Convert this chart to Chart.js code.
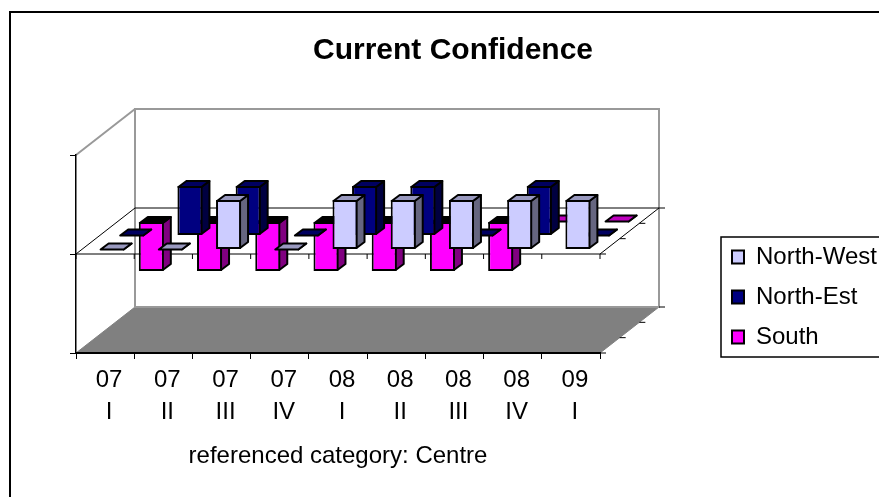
<!DOCTYPE html>
<html>
<head>
<meta charset="utf-8">
<title>Current Confidence</title>
<script src="https://cdn.jsdelivr.net/npm/chart.js@4/dist/chart.umd.min.js"></script>
<style>
  html, body { margin: 0; padding: 0; background: #fff; overflow: hidden; }
  canvas { display: block; }
</style>
</head>
<body>
<canvas id="chart" width="879" height="497"></canvas>
<script>
'use strict';

// ------------------data--------------
const categories = [['07', 'I'], ['07', 'II'], ['07', 'III'], ['07', 'IV'], ['08', 'I'], ['08', 'II'], ['08', 'III'], ['08', 'IV'], ['09', 'I']];
const seriesNames = ['North-West', 'North-Est', 'South'];
const northWest = [0, 0, 1, 0, 1, 1, 1, 1, 1];
const northEst = [0, 1, 1, 0, 1, 1, 0, 1, 0];
const south = [-1, -1, -1, -1, -1, -1, -1, 0, 0];
const valueTicks = [-2, 0, 2];

// ------------------styles--------------
const frontColors = ['#CCCCFF', '#000080', '#FF00FF'];
const sideColors = ['#666680', '#000040', '#800080'];
const topColors = ['#9999BF', '#000060', '#BF00BF'];
const wallColor = '#999999';
const floorColor = '#808080';
const fontFamily = '"Liberation Sans", Arial, sans-serif';

// depth of the box, and where each series sits inside it
const boxDepth = { x: 59, y: 46 };
const barDepth = { x: 8, y: 6 };
const seriesShift = { x: 7, y: 4.5, stepX: 19.6, stepY: 14 };

function line(ctx, x1, y1, x2, y2) {
  ctx.beginPath();
  ctx.moveTo(x1, y1);
  ctx.lineTo(x2, y2);
  ctx.stroke();
}

function fillPoly(ctx, points, fill) {
  ctx.beginPath();
  points.forEach(function(p, i) {
    if (i === 0) ctx.moveTo(p[0], p[1]);
    else ctx.lineTo(p[0], p[1]);
  });
  ctx.closePath();
  ctx.fillStyle = fill;
  ctx.fill();
  ctx.stroke();
}

// page frame, legend frame, walls and floor go under the axes
function drawBackground(chart) {
  const ctx = chart.ctx;
  const area = chart.chartArea;
  const dx = boxDepth.x;
  const dy = boxDepth.y;
  ctx.save();

  ctx.strokeStyle = '#000';
  ctx.lineWidth = 2;
  line(ctx, 10, 11, 10, chart.height);
  line(ctx, 10, 12, chart.width, 12);
  ctx.lineWidth = 1.5;
  ctx.strokeRect(721, 237, 200, 120);

  ctx.strokeStyle = floorColor;
  ctx.lineWidth = 1;
  fillPoly(ctx, [
    [area.left, area.bottom], [area.right, area.bottom],
    [area.right + dx, area.bottom - dy], [area.left + dx, area.bottom - dy]
  ], floorColor);

  ctx.strokeStyle = wallColor;
  ctx.lineWidth = 2;
  ctx.strokeRect(area.left + dx, area.top - dy, area.right - area.left, area.bottom - area.top);
  line(ctx, area.left, area.top, area.left + dx, area.top - dy);
  ctx.restore();
}

// zero plane and the depth ticks on the right edge
function drawPlanes(chart) {
  const ctx = chart.ctx;
  const area = chart.chartArea;
  const xScale = chart.scales.x;
  const zero = chart.scales.y.getPixelForValue(0);
  const dx = boxDepth.x;
  const dy = boxDepth.y;
  ctx.save();
  ctx.strokeStyle = '#000';
  ctx.lineWidth = 1;
  ctx.beginPath();
  ctx.moveTo(area.left + dx, zero - dy);
  ctx.lineTo(area.right + dx, zero - dy);
  ctx.lineTo(area.right, zero);
  ctx.lineTo(area.left, zero);
  ctx.closePath();
  ctx.stroke();

  const step = (area.right - area.left) / categories.length;
  for (let i = 0; i <= categories.length; i++) {
    const x = xScale.left + i * step;
    line(ctx, x, zero, x, zero + 5);
  }
  [zero, area.bottom].forEach(function(y) {
    for (let i = 0; i <= seriesNames.length; i++) {
      const px = area.right + dx * i / seriesNames.length;
      const py = y - dy * i / seriesNames.length;
      line(ctx, px, py, px + 6, py);
    }
  });
  ctx.restore();
}

const box3d = {
  id: 'box3d',
  afterLayout(chart) {
    const title = chart.titleBlock;
    title.left = 27;
    title.right = chart.width;
    const legend = chart.legend;
    const h = legend.height;
    legend.left = 716;
    legend.right = 716 + legend.width;
    legend.top = 229;
    legend.bottom = 229 + h;
  },
  beforeDraw(chart) {
    drawBackground(chart);
  },
  beforeDatasetsDraw(chart) {
    drawPlanes(chart);
  },
  beforeDatasetDraw(chart, args) {
    const ctx = chart.ctx;
    const i = args.index;
    ctx.save();
    ctx.translate(seriesShift.x + i * seriesShift.stepX, -(seriesShift.y + i * seriesShift.stepY));
    ctx.strokeStyle = '#000';
    ctx.lineWidth = 2;
    ctx.lineJoin = 'round';
    const meta = chart.getDatasetMeta(i);
    meta.data.forEach(function(bar, k) {
      const left = bar.x - bar.width / 2 + 1;
      const right = bar.x + bar.width / 2 - 1;
      const top = Math.min(bar.y, bar.base) + (bar.y === bar.base ? 0 : 1);
      const bottom = Math.max(bar.y, bar.base) - (bar.y === bar.base ? 0 : 1);
      const dx = barDepth.x;
      const dy = barDepth.y;
      fillPoly(ctx, [[right, top], [right + dx, top - dy], [right + dx, bottom - dy], [right, bottom]], sideColors[i]);
      const isDown = chart.data.datasets[i].data[k] < 0;
      fillPoly(ctx, [[left, top], [left + dx, top - dy], [right + dx, top - dy], [right, top]], isDown ? '#000' : topColors[i]);
    });
  },
  afterDatasetDraw(chart) {
    chart.ctx.restore();
  }
};

const seriesValues = [northWest, northEst, south];

new Chart(document.getElementById('chart'), {
  type: 'bar',
  plugins: [box3d],
  data: {
    labels: categories,
    datasets: seriesNames.map(function(name, i) {
      return {
        label: name,
        data: seriesValues[i],
        backgroundColor: frontColors[i],
        borderColor: '#000',
        borderWidth: 2,
        borderSkipped: false,
        grouped: false,
        clip: false,
        barPercentage: 25 / 58.2,
        categoryPercentage: 1
      };
    })
  },
  options: {
    responsive: false,
    animation: false,
    events: [],
    layout: { padding: { left: 0, right: 279, top: 13, bottom: 0 } },
    plugins: {
      tooltip: { enabled: false },
      title: {
        display: true,
        text: 'Current Confidence',
        color: '#000',
        font: { family: fontFamily, size: 30, weight: 'bold', lineHeight: 1.2 },
        padding: { top: 20, bottom: 86 }
      },
      legend: {
        display: true,
        position: 'chartArea',
        align: 'start',
        labels: {
          color: '#000',
          font: { family: fontFamily, size: 24 },
          boxWidth: 12,
          boxHeight: 13,
          padding: 16
        }
      }
    },
    scales: {
      x: {
        afterFit(scale) { scale.height = 144; },
        border: { color: '#000', width: 2 },
        grid: { drawOnChartArea: false, color: '#000', tickLength: 6, tickWidth: 1, offset: true },
        ticks: {
          color: '#000',
          autoSkip: false,
          maxRotation: 0,
          padding: 5,
          labelOffset: 4,
          font: { family: fontFamily, size: 24, lineHeight: 1.354 }
        },
        title: {
          display: true,
          text: 'referenced category: Centre',
          color: '#000',
          font: { family: fontFamily, size: 24, lineHeight: 1.2 },
          padding: { top: 0, bottom: 26 }
        }
      },
      y: {
        min: -2,
        max: 2,
        afterFit(scale) { scale.width = 76; },
        afterBuildTicks(scale) {
          scale.ticks = valueTicks.map(function(v) { return { value: v }; });
        },
        border: { color: '#000', width: 1.5 },
        grid: { drawOnChartArea: false, color: '#000', tickLength: 6, tickWidth: 1 },
        ticks: { display: false }
      }
    }
  }
});
</script>
</body>
</html>
